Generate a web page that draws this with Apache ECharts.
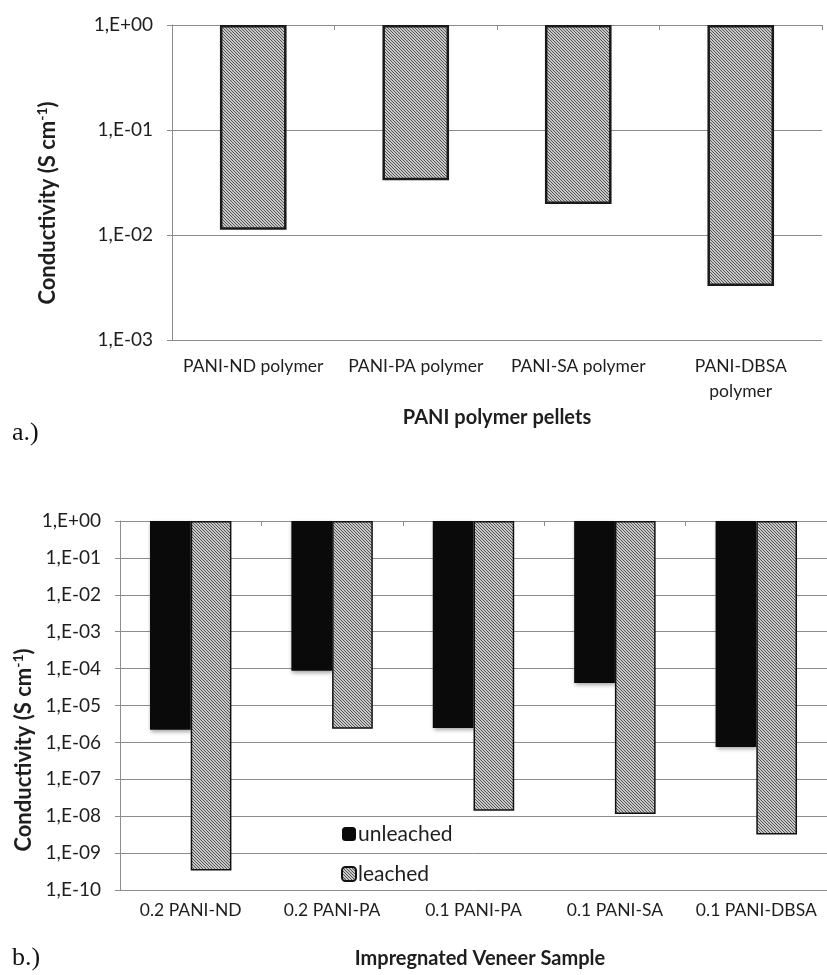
<!DOCTYPE html>
<html><head><meta charset="utf-8">
<script src="https://cdn.jsdelivr.net/npm/echarts@6/dist/echarts.min.js"></script>
<style>html,body{margin:0;padding:0;background:#fff}#c{width:827px;height:975px}</style>
</head><body><div id="c"></div>
<script>
// ---- data ----
const polymerCats = ['PANI-ND polymer', 'PANI-PA polymer', 'PANI-SA polymer', 'PANI-DBSA polymer'];
const polymerValues = [0.0112, 0.0332, 0.0197, 0.00327];
const veneerCats = ['0.2 PANI-ND', '0.2 PANI-PA', '0.1 PANI-PA', '0.1 PANI-SA', '0.1 PANI-DBSA'];
const unleachedValues = [2.2e-6, 8.7e-5, 2.45e-6, 4.1e-5, 7.5e-7];
const leachedValues = [3.4e-10, 2.35e-6, 1.4e-8, 1.15e-8, 3.2e-9];
const topTickLabels = ['1,E-03', '1,E-02', '1,E-01', '1,E+00'];
const bottomTickLabels = ['1,E-10', '1,E-09', '1,E-08', '1,E-07', '1,E-06', '1,E-05', '1,E-04', '1,E-03', '1,E-02', '1,E-01', '1,E+00'];
const seriesNames = ['unleached', 'leached'];

function hatch() {
  const c = document.createElement('canvas');
  c.width = 3; c.height = 3;
  const ctx = c.getContext('2d');
  const img = ctx.createImageData(3, 3);
  for (let y = 0; y < 3; y++) for (let x = 0; x < 3; x++) {
    const dark = (((x - y) % 3) + 3) % 3 === 0;
    const v = dark ? 85 : 200;
    const i = (y * 3 + x) * 4;
    img.data[i] = v; img.data[i + 1] = v; img.data[i + 2] = v; img.data[i + 3] = 255;
  }
  ctx.putImageData(img, 0, 0);
  return { image: c, repeat: 'repeat' };
}
const hatchFill = hatch();
const FONT = 'Lato, "Open Sans", sans-serif';
const TXT = '#1e1e1e';
const GRID = '#8c8c8c';

function expLabel(arr, offset) {
  return v => arr[Math.round(Math.log10(v)) + offset] || '';
}
const yTitle = (x, y) => ({ type: 'text', x: x, y: y, rotation: Math.PI / 2,
  style: { text: '{a|Conductivity (S cm}{s|-1}{a|)}', align: 'center', verticalAlign: 'middle',
    rich: { a: { fontSize: 22, fontWeight: 'bold', fontFamily: FONT, fill: TXT },
            s: { fontSize: 14, fontWeight: 'bold', fontFamily: FONT, fill: TXT, padding: [0, 0, 11, 0] } } } });

const chart = echarts.init(document.getElementById('c'), null, { renderer: 'canvas' });
chart.setOption({
  backgroundColor: '#fff',
  animation: false,
  textStyle: { fontFamily: FONT },
  grid: [
    { left: 172, top: 25, width: 650, height: 315 },
    { left: 120, top: 521, width: 720, height: 369 }
  ],
  xAxis: [
    { gridIndex: 0, type: 'category', data: polymerCats, position: 'top',
      axisLine: { show: true, lineStyle: { color: GRID, width: 1 } },
      axisTick: { show: true, inside: true, length: 5, lineStyle: { color: GRID } },
      axisLabel: { show: false }, splitLine: { show: false } },
    { gridIndex: 0, type: 'category', data: polymerCats, position: 'bottom',
      axisLine: { show: false }, axisTick: { show: false },
      axisLabel: { show: true, interval: 0, hideOverlap: false, margin: 14, fontSize: 17.5, color: TXT, fontFamily: FONT, lineHeight: 25,
        formatter: v => v.length > 16 ? v.replace(' ', '\n') : v } },
    { gridIndex: 1, type: 'category', data: veneerCats, position: 'top',
      axisLine: { show: true, lineStyle: { color: GRID, width: 1 } },
      axisTick: { show: true, inside: true, length: 5, lineStyle: { color: GRID } },
      axisLabel: { show: false }, splitLine: { show: false } },
    { gridIndex: 1, type: 'category', data: veneerCats, position: 'bottom',
      axisLine: { show: false }, axisTick: { show: false },
      axisLabel: { show: true, interval: 0, hideOverlap: false, margin: 11, fontSize: 17.5, color: TXT, fontFamily: FONT } }
  ],
  yAxis: [
    { gridIndex: 0, type: 'log', logBase: 10, min: 0.001, max: 1, interval: 1,
      axisLine: { show: true, lineStyle: { color: GRID } },
      axisTick: { show: true, length: 5, lineStyle: { color: GRID } },
      splitLine: { show: true, lineStyle: { color: GRID, width: 1 } },
      axisLabel: { fontSize: 19, color: TXT, margin: 19, fontFamily: FONT, formatter: expLabel(topTickLabels, 3) } },
    { gridIndex: 1, type: 'log', logBase: 10, min: 1e-10, max: 1, interval: 1,
      axisLine: { show: true, lineStyle: { color: GRID } },
      axisTick: { show: true, length: 5, lineStyle: { color: GRID } },
      splitLine: { show: true, lineStyle: { color: GRID, width: 1 } },
      axisLabel: { fontSize: 19, color: TXT, margin: 19, fontFamily: FONT, formatter: expLabel(bottomTickLabels, 10) } }
  ],
  legend: {
    data: seriesNames, orient: 'vertical', left: 336, top: 818,
    itemWidth: 14, itemHeight: 14, itemGap: 18,
    textStyle: { fontSize: 21, color: TXT, fontFamily: FONT, lineHeight: 22, padding: [0, 0, 0, -3] }
  },
  series: [
    { name: 'polymer', type: 'bar', xAxisIndex: 0, yAxisIndex: 0, data: polymerValues, barWidth: '41%',
      itemStyle: { color: hatchFill, borderColor: '#1a1a1a', borderWidth: 2.5 } },
    { name: seriesNames[0], type: 'bar', xAxisIndex: 2, yAxisIndex: 1, data: unleachedValues,
      barWidth: '28.8%', barGap: '0%',
      itemStyle: { color: '#0a0a0a', shadowColor: 'rgba(0,0,0,0.35)', shadowBlur: 4, shadowOffsetX: 1, shadowOffsetY: 2 } },
    { name: seriesNames[1], type: 'bar', xAxisIndex: 2, yAxisIndex: 1, data: leachedValues,
      barWidth: '28.8%', barGap: '0%',
      itemStyle: { color: hatchFill, borderColor: '#111', borderWidth: 1.5 } }
  ],
  graphic: [
    yTitle(48, 203),
    yTitle(24, 750),
    { type: 'text', x: 497, y: 418,
      style: { text: 'PANI polymer pellets', align: 'center', verticalAlign: 'middle', fontSize: 20, fontWeight: 'bold', fontFamily: FONT, fill: TXT } },
    { type: 'text', x: 480, y: 959,
      style: { text: 'Impregnated Veneer Sample', align: 'center', verticalAlign: 'middle', fontSize: 20, fontWeight: 'bold', fontFamily: FONT, fill: TXT } },
    { type: 'text', x: 12, y: 433,
      style: { text: 'a.)', align: 'left', verticalAlign: 'middle', fontSize: 26, fontFamily: '"Liberation Serif", serif', fill: '#111' } },
    { type: 'text', x: 12, y: 958,
      style: { text: 'b.)', align: 'left', verticalAlign: 'middle', fontSize: 26, fontFamily: '"Liberation Serif", serif', fill: '#111' } }
  ]
});
</script>
</body></html>
